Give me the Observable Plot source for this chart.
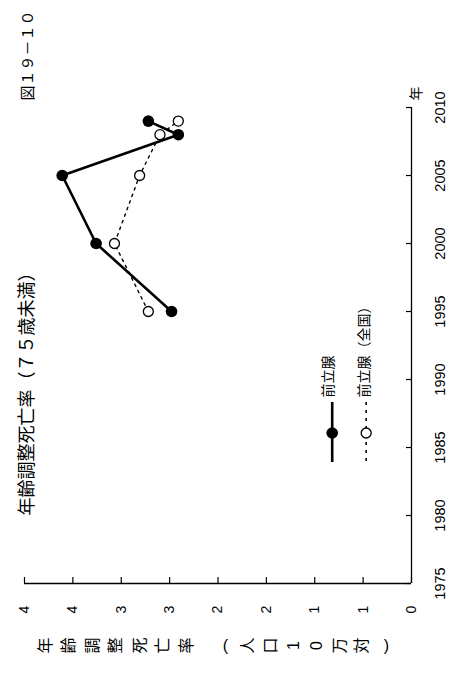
<!DOCTYPE html>
<html><head><meta charset="utf-8">
<script src="https://cdn.jsdelivr.net/npm/d3@7"></script>
<script src="https://cdn.jsdelivr.net/npm/@observablehq/plot@0.6"></script>
<style>body{margin:0;background:#fff}</style>
</head><body><div id="chart"></div>
<script>
// ---- data ----
const years = [1995, 2000, 2005, 2008, 2009];
const prostate = [2.48, 3.26, 3.61, 2.41, 2.72];          // 前立腺
const prostateNational = [2.72, 3.07, 2.81, 2.60, 2.41];  // 前立腺（全国）
const yearTicks = [1975, 1980, 1985, 1990, 1995, 2000, 2005, 2010];
const valueTicks = [0, 0.5, 1, 1.5, 2, 2.5, 3, 3.5, 4];
const valueTickLabels = ["0", "1", "1", "2", "2", "3", "3", "4", "4"];
const seriesNames = ["前立腺", "前立腺（全国）"];
const figNumber = "図１９－１０";
const titleText = "年齢調整死亡率（７５歳未満）";
const yearUnit = "年";
const axisTitleChars = ["年","齢","調","整","死","亡","率","(","人","口","1","0","万","対",")"];

// ---- layout helpers (pixel <-> data) ----
const xr = [411, 24], yr = [583, 107];
const X = d3.scaleLinear([0, 4], xr);
const Y = d3.scaleLinear([1975, 2010], yr);
const px = (p) => X.invert(p), py = (p) => Y.invert(p);

const font = "'Liberation Sans','Noto Sans CJK JP',sans-serif";
const rows = years.map((y, i) => ({year: y, a: prostate[i], b: prostateNational[i]}));

// axis title char positions (vertical stacking, rotated)
const charPos = axisTitleChars.map((c, i) => i < 7 ? 45 + 23.5 * i : 225 + 22.8 * (i - 7));
charPos[14] = 386;

const chart = Plot.plot({
  width: 462, height: 682, margin: 0,
  style: {fontFamily: font, background: "#fff", color: "#000", overflow: "visible"},
  x: {domain: [0, 4], range: xr, axis: null},
  y: {domain: [1975, 2010], range: yr, axis: null},
  marks: [
    Plot.ruleY([1975], {x1: 0, x2: 4, stroke: "#000", strokeWidth: 1.3}),
    Plot.ruleX([0], {y1: 1975, y2: 2010, stroke: "#000", strokeWidth: 1.3}),
    Plot.ruleX(valueTicks, {x: d => d, y1: 1975, y2: py(583 - 6), stroke: "#000", strokeWidth: 1.2}),
    Plot.ruleY(yearTicks, {y: d => d, x1: 0, x2: px(411 - 5), stroke: "#000", strokeWidth: 1.2}),
    Plot.text(valueTicks, {x: d => d, y: 1975, dy: 26, text: (d, i) => valueTickLabels[i],
      rotate: -90, fontSize: 14, fill: "#000"}),
    Plot.text(yearTicks, {x: 0, y: d => d, dx: 29, text: d => String(d),
      rotate: -90, fontSize: 14.5, fill: "#000"}),
    Plot.text([yearUnit], {x: 0, y: 2010, dx: 5, dy: -14, text: d => d, rotate: -90, fontSize: 14, fill: "#000"}),
    Plot.text(axisTitleChars, {x: (d, i) => px(charPos[i]), y: 1975, dy: 62, text: d => d,
      rotate: (d) => (d === "(" || d === ")") ? 0 : -90, fontSize: 16, fill: "#000"}),
    Plot.text([figNumber], {x: px(28), y: py(100), text: d => d, rotate: -90, textAnchor: "start", fontSize: 15, fill: "#000"}),
    Plot.text([titleText], {x: px(27), y: py(515), text: d => d, rotate: -90, textAnchor: "start", fontSize: 18, fill: "#000"}),
    Plot.line(rows, {x: "b", y: "year", stroke: "#000", strokeWidth: 1.4, strokeDasharray: "2.5,4.5"}),
    Plot.line(rows, {x: "a", y: "year", stroke: "#000", strokeWidth: 2.6}),
    Plot.dot(rows, {x: "b", y: "year", r: 5, fill: "#fff", stroke: "#000", strokeWidth: 1.3}),
    Plot.dot(rows, {x: "a", y: "year", r: 5.8, fill: "#000", stroke: "none"}),
    Plot.ruleX([0], {x: px(331.7), y1: py(402), y2: py(462), stroke: "#000", strokeWidth: 2.6}),
    Plot.dot([0], {x: px(331.7), y: py(432.5), r: 5.8, fill: "#000"}),
    Plot.ruleX([0], {x: px(365.7), y1: py(402), y2: py(464), stroke: "#000", strokeWidth: 1.6, strokeDasharray: "3,5"}),
    Plot.dot([0], {x: px(365.7), y: py(432.5), r: 5, fill: "#fff", stroke: "#000", strokeWidth: 1.3}),
    Plot.text([seriesNames[0]], {x: px(328.5), y: py(397), text: d => d, rotate: -90, textAnchor: "start", fontSize: 14, fill: "#000", letterSpacing: "1.5px"}),
    Plot.text([seriesNames[1]], {x: px(364.5), y: py(397), text: d => d, rotate: -90, textAnchor: "start", fontSize: 14, fill: "#000", letterSpacing: "1px"})
  ]
});
document.getElementById("chart").appendChild(chart);
</script>
</body></html>
